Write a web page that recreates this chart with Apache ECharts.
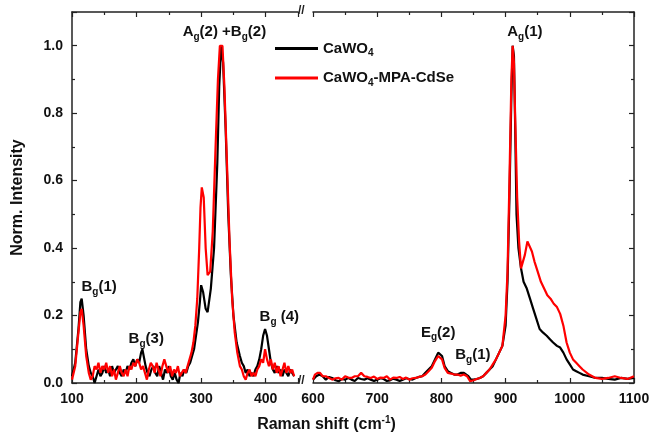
<!DOCTYPE html>
<html>
<head>
<meta charset="utf-8">
<script src="https://cdn.jsdelivr.net/npm/echarts@6/dist/echarts.min.js"></script>
<style>
  html, body { margin: 0; padding: 0; background: #fff; }
  #chart { width: 653px; height: 440px; }
</style>
</head>
<body>
<div id="chart"></div>
<script>
// Raman spectra, left part of the broken axis (100-450 cm-1)
const cawoLeft = [
  [100,0.02],[105,0.06],[110,0.16],[113,0.24],[115,0.25],[118,0.20],[122,0.10],[126,0.05],[129,0.03],[132,0.02],
  [135,0.00],[138,0.02],[141,0.04],[144,0.02],[147,0.03],[150,0.05],[153,0.03],[156,0.04],[159,0.02],[162,0.05],
  [165,0.03],[168,0.04],[171,0.05],[174,0.03],[177,0.02],[180,0.04],[183,0.03],[186,0.05],[189,0.04],[192,0.06],
  [195,0.07],[198,0.05],[201,0.07],[204,0.06],[207,0.09],[209,0.10],[211,0.08],[214,0.05],[217,0.03],[220,0.02],
  [223,0.04],[226,0.05],[229,0.03],[232,0.02],[235,0.05],[238,0.03],[241,0.01],[244,0.04],[247,0.03],[250,0.05],
  [253,0.02],[256,0.01],[259,0.03],[262,0.01],[265,0.00],[268,0.03],[271,0.02],[274,0.04],[277,0.03],[280,0.05],
  [283,0.06],[286,0.08],[289,0.10],[292,0.14],[295,0.18],[298,0.24],[300,0.29],[303,0.27],[307,0.22],[310,0.21],
  [315,0.28],[320,0.40],[325,0.65],[328,0.88],[331,1.00],[334,0.95],[338,0.75],[342,0.50],[346,0.32],[350,0.20],
  [355,0.12],[360,0.08],[363,0.06],[366,0.05],[369,0.03],[372,0.04],[375,0.02],[378,0.03],[381,0.02],[384,0.04],
  [387,0.05],[390,0.07],[393,0.10],[396,0.14],[399,0.16],[402,0.14],[405,0.10],[408,0.06],[411,0.04],[414,0.03],
  [417,0.05],[420,0.03],[423,0.04],[426,0.02],[429,0.04],[432,0.03],[435,0.02],[438,0.04],[441,0.03],[444,0.02]
];
const cdseLeft = [
  [100,0.01],[105,0.05],[110,0.15],[113,0.21],[115,0.22],[118,0.17],[122,0.08],[126,0.03],[129,0.01],[132,0.02],
  [135,0.05],[138,0.04],[141,0.06],[144,0.03],[147,0.05],[150,0.04],[153,0.06],[156,0.03],[159,0.05],[162,0.02],
  [165,0.04],[168,0.01],[171,0.03],[174,0.05],[177,0.03],[180,0.02],[183,0.04],[186,0.02],[189,0.05],[192,0.04],
  [195,0.06],[198,0.05],[201,0.07],[204,0.06],[207,0.04],[210,0.05],[213,0.03],[216,0.01],[219,0.04],[222,0.06],
  [225,0.05],[228,0.03],[231,0.06],[234,0.04],[237,0.02],[240,0.05],[243,0.07],[246,0.05],[249,0.03],[252,0.05],
  [255,0.02],[258,0.04],[261,0.03],[264,0.05],[267,0.02],[270,0.03],[273,0.04],[276,0.03],[279,0.05],[282,0.07],
  [285,0.09],[288,0.12],[291,0.17],[294,0.25],[297,0.40],[299,0.52],[301,0.58],[304,0.55],[307,0.40],[310,0.32],
  [314,0.33],[318,0.45],[322,0.68],[326,0.90],[329,1.00],[333,1.00],[336,0.88],[340,0.65],[344,0.42],[348,0.25],
  [352,0.15],[356,0.09],[360,0.05],[363,0.04],[366,0.02],[369,0.01],[372,0.03],[375,0.04],[378,0.02],[381,0.03],
  [384,0.02],[387,0.04],[390,0.05],[393,0.07],[396,0.06],[399,0.10],[402,0.07],[405,0.05],[408,0.07],[411,0.04],
  [414,0.06],[417,0.03],[420,0.05],[423,0.02],[426,0.04],[429,0.06],[432,0.03],[435,0.05],[438,0.03],[441,0.04],
  [444,0.02]
];
// right part (600-1100 cm-1)
const cawoRight = [
  [600,0.01],[605,0.02],[610,0.025],[615,0.02],[620,0.01],[625,0.018],[630,0.015],[635,0.008],[640,0.005],[645,0.012],
  [650,0.01],[655,0.015],[660,0.01],[665,0.006],[670,0.015],[675,0.012],[680,0.01],[685,0.014],[690,0.01],[695,0.006],
  [700,0.01],[705,0.014],[710,0.012],[715,0.006],[720,0.008],[725,0.013],[730,0.01],[735,0.006],[740,0.01],[745,0.014],
  [750,0.012],[755,0.01],[760,0.015],[765,0.018],[770,0.02],[775,0.03],[780,0.04],[785,0.05],[790,0.07],[795,0.09],
  [798,0.095],[801,0.08],[805,0.05],[810,0.035],[815,0.03],[820,0.025],[825,0.025],[830,0.03],[835,0.03],[838,0.035],
  [842,0.02],[846,0.01],[850,0.01],[855,0.012],[860,0.015],[865,0.02],[870,0.03],[875,0.04],[880,0.05],[885,0.07],
  [890,0.09],[895,0.11],[900,0.17],[903,0.30],[906,0.55],[909,0.85],[911,1.00],[913,0.97],[915,0.75],[917,0.50],
  [920,0.40],[924,0.34],[928,0.30],[933,0.28],[938,0.25],[943,0.22],[948,0.19],[953,0.16],[958,0.15],[964,0.14],
  [969,0.13],[974,0.12],[980,0.11],[985,0.105],[990,0.09],[995,0.07],[1000,0.055],[1005,0.04],[1010,0.035],[1015,0.03],
  [1020,0.025],[1030,0.02],[1040,0.015],[1050,0.015],[1060,0.012],[1070,0.01],[1080,0.015],[1090,0.012],[1100,0.015]
];
const cdseRight = [
  [600,0.01],[603,0.025],[607,0.03],[611,0.03],[615,0.02],[620,0.02],[625,0.015],[630,0.01],[635,0.014],[640,0.015],
  [645,0.01],[650,0.02],[655,0.016],[660,0.015],[665,0.02],[670,0.02],[675,0.03],[680,0.02],[685,0.018],[690,0.015],
  [695,0.019],[700,0.012],[705,0.016],[710,0.015],[715,0.02],[720,0.01],[725,0.016],[730,0.015],[735,0.018],[740,0.012],
  [745,0.016],[750,0.01],[755,0.014],[760,0.015],[765,0.018],[770,0.02],[775,0.025],[780,0.035],[785,0.045],[790,0.065],
  [795,0.08],[798,0.085],[801,0.07],[805,0.045],[810,0.03],[815,0.028],[820,0.025],[825,0.025],[830,0.022],[835,0.025],
  [840,0.02],[845,0.005],[850,0.008],[855,0.012],[860,0.015],[865,0.02],[870,0.03],[875,0.04],[880,0.055],[885,0.07],
  [890,0.09],[895,0.11],[900,0.20],[903,0.33],[906,0.60],[909,0.90],[911,1.00],[913,0.95],[915,0.78],[918,0.55],
  [921,0.42],[924,0.34],[927,0.34],[930,0.38],[934,0.42],[937,0.42],[941,0.39],[945,0.36],[950,0.33],[955,0.30],
  [960,0.28],[965,0.26],[970,0.25],[975,0.235],[980,0.225],[985,0.205],[990,0.17],[995,0.12],[1000,0.09],[1005,0.07],
  [1010,0.06],[1015,0.05],[1020,0.04],[1030,0.025],[1040,0.015],[1050,0.012],[1060,0.015],[1070,0.02],[1080,0.015],
  [1090,0.012],[1100,0.02]
];
const seriesNames = ['CaWO4', 'CaWO4-MPA-CdSe'];
const legendLabels = { 'CaWO4': 'CaWO{s|4}', 'CaWO4-MPA-CdSe': 'CaWO{s|4}-MPA-CdSe' };
const leftPeaks = [
  { text: 'A{s|g}(2) +B{s|g}(2)', coord: [336, 1.04] },
  { text: 'B{s|g}(1)', coord: [142, 0.285] },
  { text: 'B{s|g}(3)', coord: [215, 0.13] },
  { text: 'B{s|g} (4)', coord: [421, 0.195] }
];
const rightPeaks = [
  { text: 'A{s|g}(1)', coord: [930, 1.04] },
  { text: 'E{s|g}(2)', coord: [795, 0.15] },
  { text: 'B{s|g}(1)', coord: [849, 0.083] }
];

const font = '"Liberation Sans", Arial, sans-serif';
const rich = {
  m: { fontFamily: font, fontWeight: 'bold', fontSize: 15, lineHeight: 20, color: '#111' },
  s: { fontFamily: font, fontWeight: 'bold', fontSize: 10, lineHeight: 10, verticalAlign: 'bottom', color: '#111' }
};
const wrap = t => t.replace(/^([^{]*)/, '{m|$1}').replace(/\}([^{]+)/g, '}{m|$1}');

const chart = echarts.init(document.getElementById('chart'));

function xAx(idx, min, max, pos) {
  return {
    type: 'value', gridIndex: idx, min: min, max: max, interval: 100, position: pos,
    axisLine: { show: true, lineStyle: { color: '#222', width: 1.5 } },
    axisTick: { show: true, inside: true, length: 5, lineStyle: { color: '#222', width: 1.2 } },
    minorTick: { show: true, splitNumber: 2, length: 3, lineStyle: { color: '#222', width: 1.2 } },
    axisLabel: {
      show: pos === 'bottom', margin: 9, color: '#111', fontFamily: font, fontWeight: 'bold', fontSize: 14,
      showMaxLabel: idx === 1, formatter: v => (v % 100 === 0 ? String(v) : '')
    },
    splitLine: { show: false }
  };
}
function yAx(idx, pos, label) {
  return {
    type: 'value', gridIndex: idx, min: 0, max: 1.1, interval: 0.2, position: pos,
    axisLine: { show: true, lineStyle: { color: '#222', width: 1.5 } },
    axisTick: { show: true, inside: true, length: 5, lineStyle: { color: '#222', width: 1.2 } },
    minorTick: { show: true, splitNumber: 2, length: 3, lineStyle: { color: '#222', width: 1.2 } },
    axisLabel: { show: label, margin: 9, color: '#111', fontFamily: font, fontWeight: 'bold', fontSize: 14,
      showMaxLabel: false, formatter: v => (v > 1.05 ? '' : v.toFixed(1)) },
    splitLine: { show: false },
    name: label ? 'Norm. Intensity' : '', nameLocation: 'middle', nameGap: 46,
    nameTextStyle: { fontFamily: font, fontWeight: 'bold', fontSize: 16, color: '#111' }
  };
}
function peakMarks(list) {
  return {
    symbol: 'circle', symbolSize: 0, silent: true,
    label: { show: true, position: 'inside', formatter: p => p.data.txt, rich: rich, color: '#111',
      fontFamily: font, fontWeight: 'bold', fontSize: 15 },
    data: list.map(p => ({ coord: p.coord, txt: wrap(p.text) }))
  };
}
function line(name, xi, data, color, marks) {
  const s = {
    name: name, type: 'line', xAxisIndex: xi, yAxisIndex: xi, data: data,
    symbol: 'none', lineStyle: { color: color, width: 2.2 }, itemStyle: { color: color }, animation: false
  };
  if (marks) s.markPoint = peakMarks(marks);
  return s;
}

chart.setOption({
  animation: false,
  grid: [
    { left: 72, right: 355, top: 12, bottom: 57 },
    { left: 313, right: 19, top: 12, bottom: 57 }
  ],
  xAxis: [
    xAx(0, 100, 450, 'bottom'), xAx(1, 600, 1100, 'bottom'),
    xAx(0, 100, 450, 'top'), xAx(1, 600, 1100, 'top')
  ],
  yAxis: [yAx(0, 'left', true), yAx(1, 'right', false)],
  legend: {
    left: 270, top: 36, orient: 'vertical', itemGap: 12, itemWidth: 43, itemHeight: 3,
    icon: 'rect', data: seriesNames,
    formatter: n => wrap(legendLabels[n]),
    textStyle: { rich: rich }
  },
  series: [
    line(seriesNames[0], 0, cawoLeft, '#000'),
    line(seriesNames[1], 0, cdseLeft, '#ff0000', leftPeaks),
    line(seriesNames[0], 1, cawoRight, '#000'),
    line(seriesNames[1], 1, cdseRight, '#ff0000', rightPeaks)
  ],
  graphic: [
    { type: 'text', left: 298, top: 375, style: { text: '//', font: 'bold 12px ' + font, fill: '#222' } },
    { type: 'text', left: 298, top: 5, style: { text: '//', font: 'bold 12px ' + font, fill: '#222' } },
    { type: 'text', left: 'center', top: 415, style: {
      text: '{m|Raman shift (cm}{u|-1}{m|)}', rich: {
        m: { fontFamily: font, fontWeight: 'bold', fontSize: 16, lineHeight: 20, fill: '#111' },
        u: { fontFamily: font, fontWeight: 'bold', fontSize: 10, lineHeight: 10, verticalAlign: 'top', fill: '#111' }
      } } }
  ]
});
</script>
</body>
</html>
